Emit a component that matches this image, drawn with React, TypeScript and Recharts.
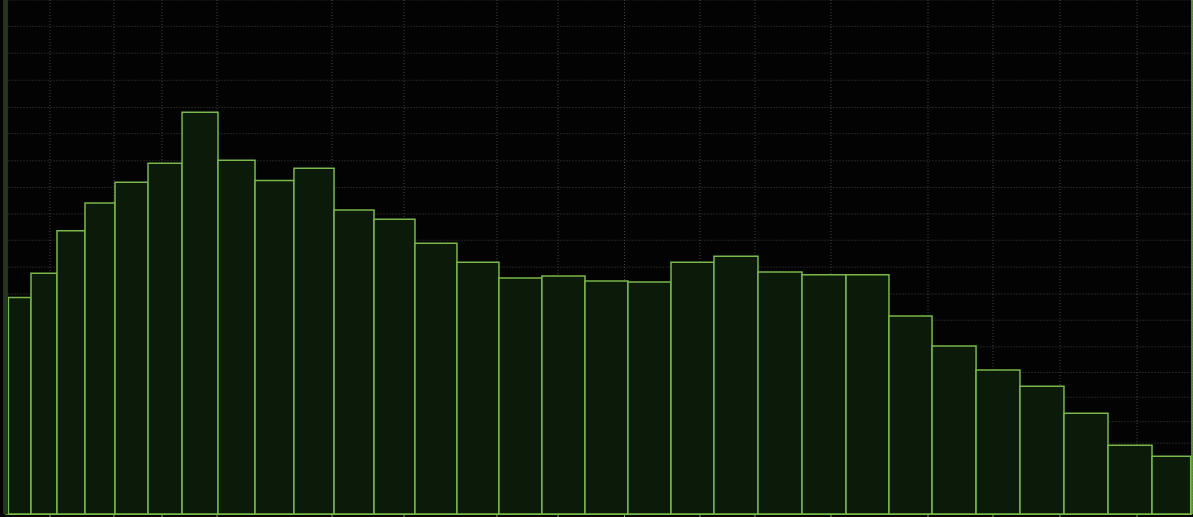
import React from "react"
import {
    ComposedChart,
    XAxis,
    YAxis,
    CartesianGrid,
    ReferenceArea,
} from "recharts"

// bin edges (x units, 0..100) and counts per bin
const binEdges = [
    0.24, 2.15, 4.34, 6.7, 9.23, 12.01, 14.88, 17.91, 21.03, 24.31, 27.69,
    31.06, 34.51, 38.05, 41.59, 45.21, 48.84, 52.46, 56.09, 59.71, 63.42,
    67.13, 70.84, 74.46, 78.09, 81.8, 85.5, 89.21, 92.92, 96.63, 99.89,
]

const binValues = [
    80.8, 89.8, 105.6, 116.0, 123.7, 130.8, 149.8, 131.9, 124.4, 128.9,
    113.4, 109.9, 101.0, 93.9, 88.0, 88.8, 86.9, 86.5, 93.9, 96.1,
    90.3, 89.2, 89.2, 73.9, 62.7, 53.8, 47.7, 37.6, 25.7, 21.6,
]

const xTicks = [
    3.75, 9.14, 13.19, 17.83, 27.52, 33.59, 41.42, 46.57, 52.17, 58.53,
    63.17, 69.57, 77.75, 83.23, 88.88, 95.37,
]

const yTicks = [
    26.5, 34.5, 43.6, 52.8, 62.4, 72.3, 82.1, 92.1, 102.1, 111.9, 121.8,
    131.7, 141.8, 151.6, 161.7, 171.8, 181.8,
]

const bins = binValues.map((v, i) => ({ x0: binEdges[i], x1: binEdges[i + 1], count: v }))

const LINE = "#7ab84a"
const FILL = "#0c1a09"
const GRID = "#41463a"

const App = () => {
    return (
        <div
            style={{
                position: "fixed",
                top: 0,
                left: 0,
                width: 1193,
                height: 517,
                overflow: "hidden",
                background: "#030303",
            }}
        >
            <ComposedChart
                width={1193}
                height={545}
                data={bins}
                margin={{ top: 0, right: 0, bottom: 0, left: 0 }}
            >
                <CartesianGrid stroke={GRID} strokeDasharray="1 2" />
                <XAxis
                    type="number"
                    dataKey="x0"
                    domain={[0, 100]}
                    ticks={xTicks}
                    height={30.7}
                    axisLine={{ stroke: LINE, strokeWidth: 1.5 }}
                    tickLine={{ stroke: LINE }}
                    tickSize={6}
                    tick={{ fill: LINE, fontSize: 11 }}
                    tickFormatter={() => ""}
                    allowDataOverflow
                />
                <YAxis
                    type="number"
                    domain={[0, 191.6]}
                    ticks={yTicks}
                    width={5.5}
                    axisLine={{ stroke: "#253220", strokeWidth: 5 }}
                    tick={{ fill: "none", fontSize: 1 }}
                    tickFormatter={() => ""}
                    tickLine={false}
                    allowDataOverflow
                />
                <YAxis
                    yAxisId="right"
                    orientation="right"
                    type="number"
                    domain={[0, 191.6]}
                    width={1}
                    axisLine={{ stroke: LINE, strokeWidth: 1.5 }}
                    tick={false}
                    tickLine={false}
                />
                {bins.map((b, i) => (
                    <ReferenceArea
                        key={`bin-${i}`}
                        x1={b.x0}
                        x2={b.x1}
                        y1={0}
                        y2={b.count}
                        fill={FILL}
                        fillOpacity={1}
                        stroke={LINE}
                        strokeWidth={1.5}
                        ifOverflow="visible"
                    />
                ))}
            </ComposedChart>
        </div>
    )
}

export default App
